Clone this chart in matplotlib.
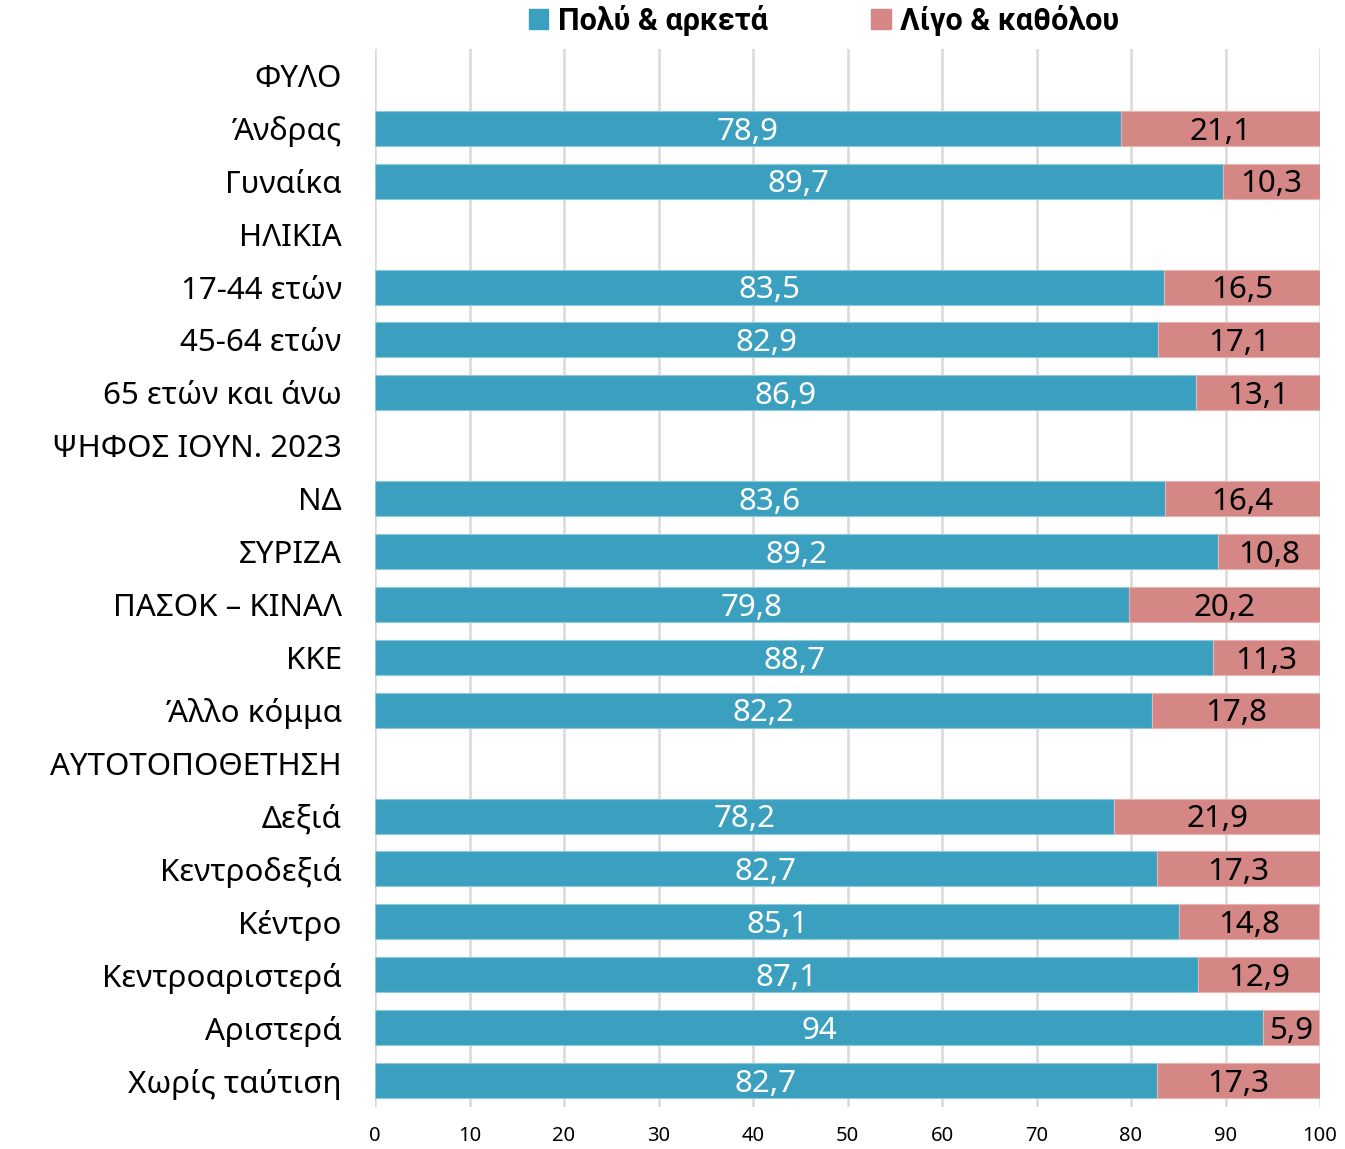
import matplotlib
matplotlib.use("Agg")
import matplotlib.pyplot as plt
from matplotlib.patches import Patch

plt.rcParams['font.family'] = ['Noto Sans', 'DejaVu Sans']

categories = ["ΦΥΛΟ", "Άνδρας", "Γυναίκα", "ΗΛΙΚΙΑ", "17-44 ετών", "45-64 ετών",
              "65 ετών και άνω", "ΨΗΦΟΣ ΙΟΥΝ. 2023", "ΝΔ", "ΣΥΡΙΖΑ", "ΠΑΣΟΚ – ΚΙΝΑΛ",
              "ΚΚΕ", "Άλλο κόμμα", "ΑΥΤΟΤΟΠΟΘΕΤΗΣΗ", "Δεξιά", "Κεντροδεξιά", "Κέντρο",
              "Κεντροαριστερά", "Αριστερά", "Χωρίς ταύτιση"]
much = [None, 78.9, 89.7, None, 83.5, 82.9, 86.9, None, 83.6, 89.2, 79.8, 88.7, 82.2,
        None, 78.2, 82.7, 85.1, 87.1, 94, 82.7]
little = [None, 21.1, 10.3, None, 16.5, 17.1, 13.1, None, 16.4, 10.8, 20.2, 11.3, 17.8,
          None, 21.9, 17.3, 14.8, 12.9, 5.9, 17.3]
series_names = ["Πολύ & αρκετά", "Λίγο & καθόλου"]
xticks = [0, 10, 20, 30, 40, 50, 60, 70, 80, 90, 100]

c1 = "#3BA0BF"
c2 = "#D48784"

W, H = 1345, 1149
fig = plt.figure(figsize=(W / 100, H / 100), dpi=100)
top_px, bot_px = 49, 1107
ax = fig.add_axes([375 / W, 1 - bot_px / H, (1320 - 375) / W, (bot_px - top_px) / H])

n = len(categories)
ys = list(range(n))

def fmt(v):
    s = f"{v:.1f}".replace(".", ",")
    if s.endswith(",0"):
        s = s[:-2]
    return s

for y, a, b in zip(ys, much, little):
    if a is None:
        continue
    ax.barh(y, a, height=0.66, color=c1, edgecolor="#8CCADB", linewidth=0.8, zorder=3)
    ax.barh(y, b, left=a, height=0.66, color=c2, edgecolor="#E8B3B1", linewidth=0.8, zorder=3)
    ax.text(a / 2, y + 0.06, fmt(a), ha="center", va="center", color="white", fontsize=22.5, zorder=4)
    ax.text(a + b / 2, y + 0.06, fmt(b), ha="center", va="center", color="black", fontsize=22.5, zorder=4)

ax.set_ylim(n - 0.5, -0.5)
ax.set_xlim(0, 100)
ax.set_yticks(ys)
ax.set_yticklabels(categories, fontsize=22.5)
ax.tick_params(axis="y", length=0, pad=24)
ax.set_xticks(xticks)
ax.set_xticklabels([str(t) for t in xticks], fontsize=14.5)
ax.tick_params(axis="x", length=0, pad=14)
ax.grid(axis="x", color="#D9D9D9", linewidth=1.8, zorder=0)
ax.set_axisbelow(True)
for s in ax.spines.values():
    s.set_visible(False)

handles = [Patch(facecolor=c1, edgecolor=c1), Patch(facecolor=c2, edgecolor=c2)]
fig.legend(handles, series_names, loc="center", bbox_to_anchor=(824 / W, 1 - 20 / H),
           ncol=2, frameon=False, prop={"family": "Roboto", "weight": "bold", "size": 22},
           handlelength=0.65, handleheight=0.65, handletextpad=0.3, columnspacing=3.4,
           borderpad=0)

fig.savefig("out.png", dpi=100)
